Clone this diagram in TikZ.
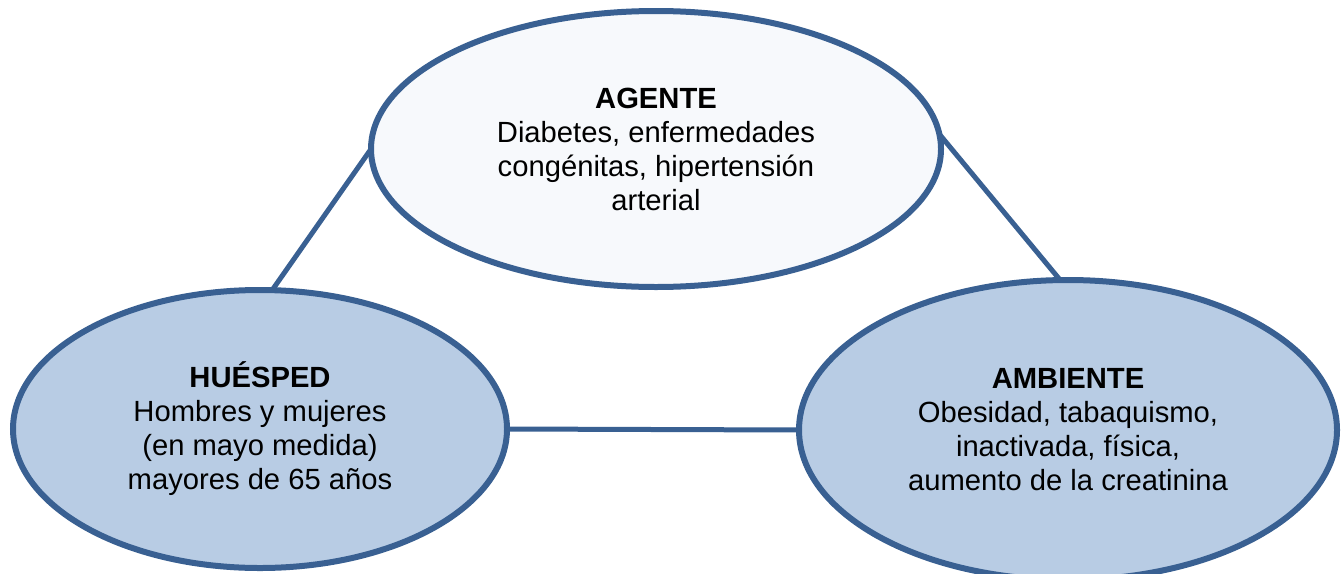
\documentclass[tikz,border=0pt]{standalone}
\usepackage{fontspec}
\setmainfont{Liberation Sans}
\usetikzlibrary{shapes.geometric}
\definecolor{borde}{RGB}{57,96,146}
\definecolor{azul}{RGB}{184,204,228}
\definecolor{claro}{RGB}{247,249,252}
\tikzset{%
    ell/.style={ellipse, draw=borde, line width=3pt, outer sep=0pt, inner sep=0pt, align=center, font=\fontsize{14.6}{17}\selectfont},
    lin/.style={draw=borde, line width=2.5pt},
}
\begin{document}
\begin{tikzpicture}[x=0.5pt,y=-0.5pt]
    \useasboundingbox (0,0) rectangle (1342,573);
    \node [ell,fill=claro,minimum width=285pt,minimum height=138pt] (agente) at (656,149) {\textbf{AGENTE}\\Diabetes, enfermedades\\congénitas, hipertensión\\arterial};
    \node [ell,fill=azul,minimum width=247pt,minimum height=139pt] (huesped) at (260,429) {\textbf{HUÉSPED}\\Hombres y mujeres\\(en mayo medida)\\mayores de 65 años};
    \node [ell,fill=azul,minimum width=269pt,minimum height=150pt] (ambiente) at (1068,430) {\textbf{AMBIENTE}\\Obesidad, tabaquismo,\\inactivada, física,\\aumento de la creatinina};
    \draw [lin] (huesped.85) -- (agente.west);
    \draw [lin] (agente.3) -- (ambiente.93);
    \draw [lin] (huesped.east) -- (ambiente.west);
\end{tikzpicture}
\end{document}
